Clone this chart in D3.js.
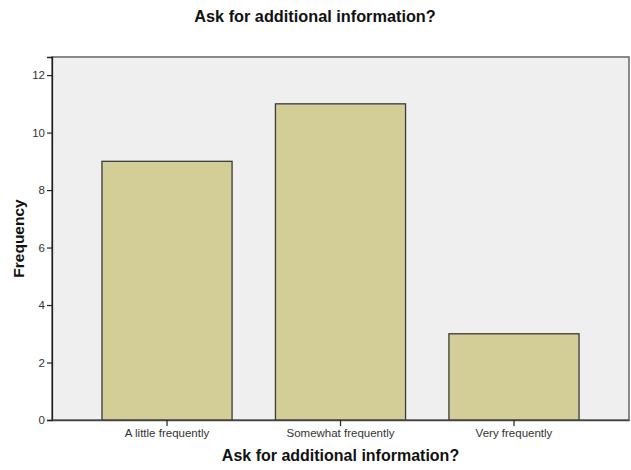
<!DOCTYPE html>
<html>
<head>
<meta charset="utf-8">
<script src="https://cdn.jsdelivr.net/npm/d3@7/dist/d3.min.js"></script>
<style>
  html, body { margin: 0; padding: 0; background: #ffffff; }
  svg { display: block; }
  text { font-family: "Liberation Sans", Arial, sans-serif; }
</style>
</head>
<body>
<svg id="chart" width="631" height="470"></svg>
<script>
// Responses to "Ask for additional information?"
const categories = ["A little frequently", "Somewhat frequently", "Very frequently"];
const frequencies = [9, 11, 3];
const yTicks = [0, 2, 4, 6, 8, 10, 12];
const chartTitle = "Ask for additional information?";
const xTitle = "Ask for additional information?";
const yTitle = "Frequency";

const svg = d3.select("#chart");
const plot = { left: 52, right: 629, top: 57, bottom: 420 };

const x = d3.scaleBand()
  .domain(categories)
  .range([plot.left, plot.right])
  .paddingInner(0.25)
  .paddingOuter(0.288);

const y = d3.scaleLinear()
  .domain([0, 12.63])
  .range([plot.bottom, plot.top]);

// Plot background and frame
svg.append("rect")
  .attr("x", plot.left)
  .attr("y", plot.top)
  .attr("width", plot.right - plot.left)
  .attr("height", plot.bottom - plot.top)
  .attr("fill", "#efefef")
  .attr("stroke", "#6e6e6e")
  .attr("stroke-width", 1.6);

// Bars
svg.append("g")
  .selectAll("rect")
  .data(categories.map((c, i) => ({ c, v: frequencies[i] })))
  .join("rect")
  .attr("x", d => x(d.c))
  .attr("y", d => y(d.v))
  .attr("width", x.bandwidth())
  .attr("height", d => y(0) - y(d.v))
  .attr("fill", "#d3ce97")
  .attr("stroke", "#3a3a3a")
  .attr("stroke-width", 1.3);

// Y axis
const yAxis = svg.append("g")
  .attr("transform", `translate(${plot.left},0)`)
  .call(d3.axisLeft(y).tickValues(yTicks).tickSize(5).tickPadding(2).tickFormat(d3.format("d")));
yAxis.select(".domain").attr("stroke", "#222").attr("stroke-width", 1.3);
yAxis.selectAll(".tick line").attr("stroke", "#222").attr("stroke-width", 1.2);
yAxis.selectAll(".tick text")
  .attr("font-size", 11.5)
  .attr("fill", "#333")
  .style("font-family", "'Liberation Sans', Arial, sans-serif");

// X axis
const xAxis = svg.append("g")
  .attr("transform", `translate(0,${plot.bottom})`)
  .call(d3.axisBottom(x).tickSize(6).tickPadding(3).tickSizeOuter(0));
xAxis.select(".domain").attr("stroke", "#444").attr("stroke-width", 1.3);
xAxis.selectAll(".tick line").attr("stroke", "#222").attr("stroke-width", 1.2);
xAxis.selectAll(".tick text")
  .attr("font-size", 11.5)
  .attr("fill", "#333")
  .style("font-family", "'Liberation Sans', Arial, sans-serif");

// Titles
svg.append("text")
  .attr("x", 315)
  .attr("y", 22)
  .attr("text-anchor", "middle")
  .attr("font-size", 16.3)
  .attr("font-weight", "bold")
  .attr("fill", "#111")
  .text(chartTitle);

svg.append("text")
  .attr("x", (plot.left + plot.right) / 2)
  .attr("y", 461)
  .attr("text-anchor", "middle")
  .attr("font-size", 16)
  .attr("font-weight", "bold")
  .attr("fill", "#111")
  .text(xTitle);

svg.append("text")
  .attr("transform", `translate(24,${(plot.top + plot.bottom) / 2}) rotate(-90)`)
  .attr("text-anchor", "middle")
  .attr("font-size", 15.5)
  .attr("font-weight", "bold")
  .attr("fill", "#111")
  .text(yTitle);
</script>
</body>
</html>
